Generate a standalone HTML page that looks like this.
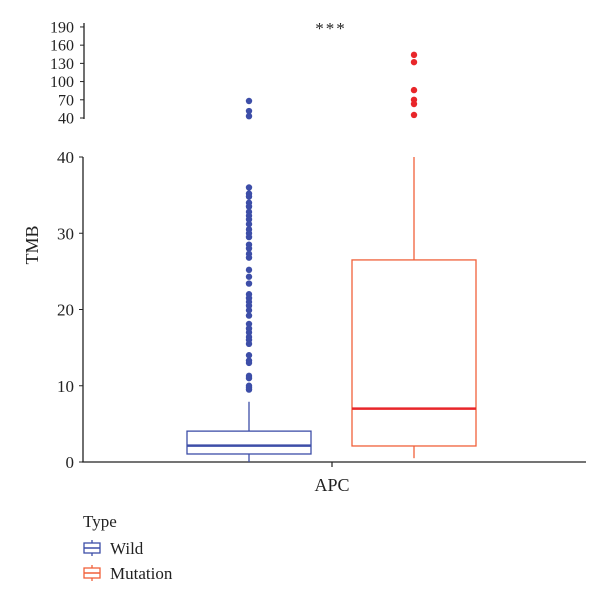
<!DOCTYPE html>
<html><head><meta charset="utf-8"><style>
body{margin:0;background:#fff}
svg text{font-family:"Liberation Serif",serif;fill:#222}
</style></head><body>
<svg id="c" width="600" height="604" xmlns="http://www.w3.org/2000/svg"></svg>
<script>
const groups=["Wild","Mutation"];
const colors=["#3d4ea8","#f0603a"];
const medColors=["#3d4ea8","#e8262a"];
const q1=[1.05,2.1];
const median=[2.15,7.0];
const q3=[4.05,26.5];
const whiskLo=[0,0.5];
const whiskHi=[7.9,40];
const outlierColors=["#3d4ea8","#e8262a"];
const wildOut=[36,35.2,34.8,34,33.5,32.8,32.3,31.8,31.2,30.5,30,29.5,28.5,28,27.3,26.8,25.2,24.3,23.4,22,21.5,21,20.5,19.9,19.2,18.1,17.5,17,16.4,16,15.5,14,13.3,13,11.3,11,10,9.8,9.5,43,51.5,68];
const mutOut=[45,63,70,86,132,144];
const lowTicks=[0,10,20,30,40];
const highTicks=[40,70,100,130,160,190];
const NS="http://www.w3.org/2000/svg";
const svg=document.getElementById('c');
function mk(t,a,txt){const e=document.createElementNS(NS,t);for(const k in a)e.setAttribute(k,a[k]);if(txt!=null)e.textContent=txt;svg.appendChild(e);return e;}
const yLow=v=>462-v*7.625;
const yHigh=v=>118-(v-40)*0.607;
const y=v=>v<=40?yLow(v):yHigh(v);
const cx=[249,414], hw=62;
// axes
let e=mk('line',{x1:83,y1:157,x2:83,y2:462,stroke:'#222','stroke-width':1.3});

e=mk('line',{x1:84,y1:23,x2:84,y2:119,stroke:'#222','stroke-width':1.3});

e=mk('line',{x1:82,y1:462,x2:586,y2:462,stroke:'#222','stroke-width':1.3});

mk('line',{x1:332,y1:462,x2:332,y2:467,stroke:'#222','stroke-width':1.2});
lowTicks.forEach(t=>{mk('line',{x1:79,y1:yLow(t),x2:83,y2:yLow(t),stroke:'#222'});
 e=mk('text',{x:74,y:yLow(t)+6,'text-anchor':'end','font-size':17},t);
 });
highTicks.forEach(t=>{mk('line',{x1:80,y1:yHigh(t),x2:84,y2:yHigh(t),stroke:'#222'});
 e=mk('text',{x:74,y:yHigh(t)+5.5,'text-anchor':'end','font-size':16},t);
 });
e=mk('text',{x:38,y:245,'text-anchor':'middle','font-size':18,transform:'rotate(-90 38 245)'},'TMB');

e=mk('text',{x:332,y:491,'text-anchor':'middle','font-size':18},'APC');

e=mk('text',{x:331,y:34,'text-anchor':'middle','font-size':17,'letter-spacing':'2'},'***');

groups.forEach((g,i)=>{
 const c=colors[i];
 e=mk('line',{x1:cx[i],y1:y(whiskHi[i]),x2:cx[i],y2:y(q3[i]),stroke:c,'stroke-width':1.3});
 
 e=mk('line',{x1:cx[i],y1:y(q1[i]),x2:cx[i],y2:y(whiskLo[i]),stroke:c,'stroke-width':1.3});
 
 e=mk('rect',{x:cx[i]-hw,y:y(q3[i]),width:hw*2,height:y(q1[i])-y(q3[i]),fill:'none',stroke:c,'stroke-width':1.3});
 
 e=mk('line',{x1:cx[i]-hw,y1:y(median[i]),x2:cx[i]+hw,y2:y(median[i]),stroke:medColors[i],'stroke-width':2.5});
 
});
[wildOut,mutOut].forEach((arr,i)=>arr.forEach(v=>{
 e=mk('circle',{cx:cx[i],cy:y(v),r:3.2,fill:outlierColors[i]});
 
}));
// legend
e=mk('text',{x:83,y:527,'font-size':17},'Type');

groups.forEach((g,i)=>{
 const yy=548+i*25;
 const gr=document.createElementNS(NS,'g');svg.appendChild(gr);
 
 
 const c=colors[i];
 [['line',{x1:92,y1:yy-8,x2:92,y2:yy+8,stroke:c,'stroke-width':1.3}],
  ['rect',{x:84,y:yy-5,width:16,height:10,fill:'#fff',stroke:c,'stroke-width':1.3}],
  ['line',{x1:84,y1:yy,x2:100,y2:yy,stroke:c,'stroke-width':1.5}]].forEach(([t,a])=>{const el=document.createElementNS(NS,t);for(const k in a)el.setAttribute(k,a[k]);gr.appendChild(el);});
 const tx=document.createElementNS(NS,'text');tx.setAttribute('x',110);tx.setAttribute('y',yy+6);tx.setAttribute('font-size',17);tx.textContent=g;gr.appendChild(tx);
});
</script>
</body></html>
